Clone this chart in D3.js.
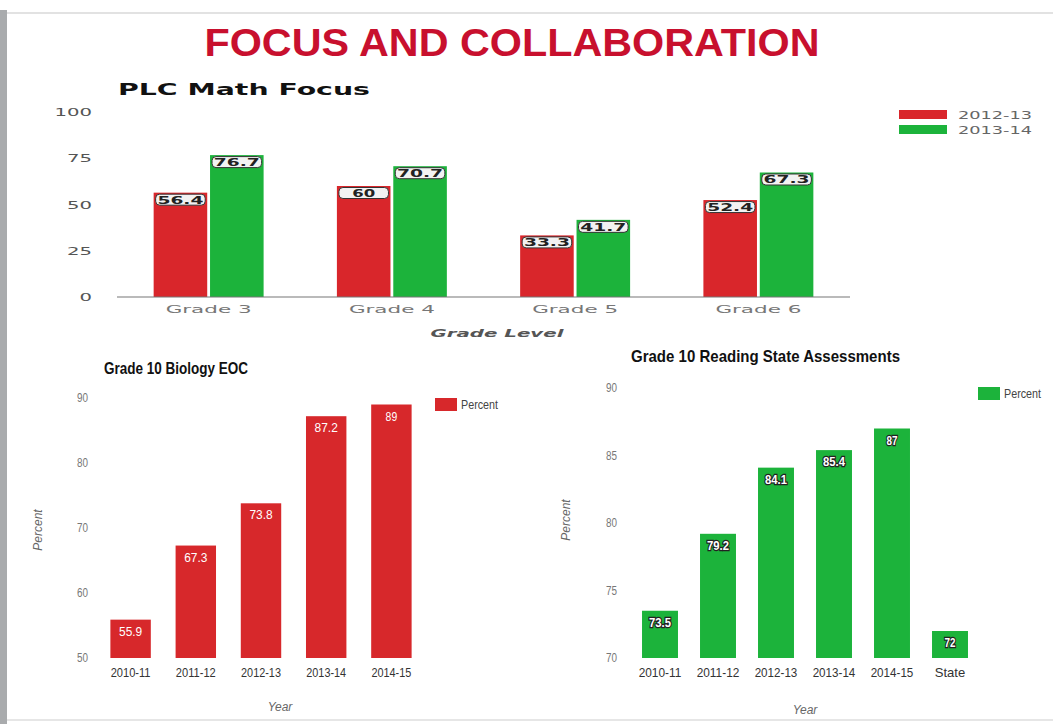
<!DOCTYPE html>
<html>
<head>
<meta charset="utf-8">
<script src="https://cdn.jsdelivr.net/npm/d3@7"></script>
<style>
  body { margin: 0; background: #fff; }
  svg { display: block; }
  .wide { font-family: "DejaVu Sans", Verdana, sans-serif; }
  .narrow { font-family: "Liberation Sans Narrow", "Liberation Sans", Arial, sans-serif; }
</style>
</head>
<body>
<div id="container"></div>
<script>
// data
var mathGrades = ["Grade 3", "Grade 4", "Grade 5", "Grade 6"];
var mathSeries = ["2012-13", "2013-14"];
var math1213 = [56.4, 60, 33.3, 52.4];
var math1314 = [76.7, 70.7, 41.7, 67.3];
var mathTicks = [0, 25, 50, 75, 100];

var bioYears = ["2010-11", "2011-12", "2012-13", "2013-14", "2014-15"];
var bioValues = [55.9, 67.3, 73.8, 87.2, 89];
var bioTicks = [50, 60, 70, 80, 90];

var readYears = ["2010-11", "2011-12", "2012-13", "2013-14", "2014-15", "State"];
var readValues = [73.5, 79.2, 84.1, 85.4, 87, 72];
var readTicks = [70, 75, 80, 85, 90];

var RED = "#d9262b";
var GREEN = "#1cb33b";

var svg = d3.select("#container").append("svg")
  .attr("width", 1053)
  .attr("height", 724);

// slide frame
svg.append("rect").attr("x", 0).attr("y", 0).attr("width", 1053).attr("height", 724).attr("fill", "#fff");
svg.append("rect").attr("x", 0).attr("y", 10).attr("width", 7).attr("height", 714).attr("fill", "#a9abad");
svg.append("line").attr("x1", 7).attr("x2", 1053).attr("y1", 13).attr("y2", 13)
  .attr("stroke", "#e2e2e2").attr("stroke-width", 2);
svg.append("line").attr("x1", 7).attr("x2", 1053).attr("y1", 720).attr("y2", 720)
  .attr("stroke", "#e6e6e6").attr("stroke-width", 2);

// main title
svg.append("text")
  .attr("class", "narrow")
  .attr("x", 512).attr("y", 56)
  .attr("text-anchor", "middle")
  .attr("font-size", 38).attr("font-weight", "bold")
  .attr("fill", "#c8102e")
  .attr("textLength", 615).attr("lengthAdjust", "spacingAndGlyphs")
  .text("FOCUS AND COLLABORATION");

/* ---------- PLC Math Focus ---------- */
var top_ = svg.append("g");

top_.append("text")
  .attr("class", "wide")
  .attr("x", 118).attr("y", 95)
  .attr("font-size", 15).attr("font-weight", "bold")
  .attr("fill", "#111")
  .attr("textLength", 252).attr("lengthAdjust", "spacingAndGlyphs")
  .text("PLC Math Focus");

var mx = d3.scaleBand().domain(mathGrades).range([117, 850]).paddingInner(0.4).paddingOuter(0.2);
var my = d3.scaleLinear().domain([0, 100]).range([297, 112]);
var msub = d3.scaleBand().domain(mathSeries).range([0, mx.bandwidth()]).paddingInner(0.05);

top_.selectAll(".ytick").data(mathTicks).enter().append("text")
  .attr("class", "wide")
  .attr("x", 92).attr("y", d => my(d) + 4)
  .attr("text-anchor", "end")
  .attr("font-size", 10)
  .attr("textLength", d => String(d).length * 12.5)
  .attr("lengthAdjust", "spacingAndGlyphs")
  .attr("fill", "#555")
  .text(d => d);

var mathRows = mathGrades.map((g, i) => ({ grade: g, vals: [math1213[i], math1314[i]] }));
var groups = top_.selectAll(".grp").data(mathRows).enter().append("g")
  .attr("transform", d => "translate(" + mx(d.grade) + ",0)");

groups.selectAll("rect").data(d => d.vals.map((v, j) => ({ key: mathSeries[j], v: v })))
  .enter().append("rect")
  .attr("x", d => msub(d.key))
  .attr("width", msub.bandwidth())
  .attr("y", d => my(d.v))
  .attr("height", d => my(0) - my(d.v))
  .attr("fill", d => d.key === mathSeries[0] ? RED : GREEN);

var mlab = groups.selectAll(".lab").data(d => d.vals.map((v, j) => ({ key: mathSeries[j], v: v })))
  .enter().append("g");
mlab.append("rect")
  .attr("x", d => msub(d.key) + 2)
  .attr("y", d => my(d.v) + 1.5)
  .attr("width", msub.bandwidth() - 4).attr("height", 11).attr("rx", 4)
  .attr("fill", "#f2f2f2").attr("stroke", "#333").attr("stroke-width", 1);
mlab.append("text")
  .attr("class", "wide")
  .attr("x", d => msub(d.key) + msub.bandwidth() / 2)
  .attr("y", d => my(d.v) + 11)
  .attr("text-anchor", "middle")
  .attr("font-size", 11).attr("font-weight", "bold")
  .attr("textLength", d => String(d.v).length * 11.5)
  .attr("lengthAdjust", "spacingAndGlyphs")
  .attr("fill", "#222")
  .text(d => d.v);

top_.append("line")
  .attr("x1", 117).attr("x2", 850).attr("y1", my(0)).attr("y2", my(0))
  .attr("stroke", "#777").attr("stroke-width", 1.2);

top_.selectAll(".xl").data(mathGrades).enter().append("text")
  .attr("class", "wide")
  .attr("x", d => mx(d) + mx.bandwidth() / 2)
  .attr("y", 313)
  .attr("text-anchor", "middle")
  .attr("font-size", 11)
  .attr("textLength", 86).attr("lengthAdjust", "spacingAndGlyphs")
  .attr("fill", "#777")
  .text(d => d);

top_.append("text")
  .attr("class", "wide")
  .attr("x", 497).attr("y", 337)
  .attr("text-anchor", "middle")
  .attr("font-size", 11).attr("font-weight", "bold").attr("font-style", "italic")
  .attr("textLength", 133).attr("lengthAdjust", "spacingAndGlyphs")
  .attr("fill", "#555")
  .text("Grade Level");

var mleg = top_.selectAll(".leg").data(mathSeries).enter().append("g")
  .attr("transform", (d, i) => "translate(899," + (110 + i * 15) + ")");
mleg.append("rect").attr("width", 48).attr("height", 9)
  .attr("fill", (d, i) => i === 0 ? RED : GREEN);
mleg.append("text")
  .attr("class", "wide")
  .attr("x", 59).attr("y", 9)
  .attr("font-size", 10)
  .attr("textLength", 74).attr("lengthAdjust", "spacingAndGlyphs")
  .attr("fill", "#666")
  .text(d => d);

/* ---------- small year charts ---------- */
function yearChart(opt) {
  var g = svg.append("g");
  var x = d3.scaleBand().domain(opt.cats).range(opt.xr).paddingInner(opt.pad).paddingOuter(opt.pad / 2);
  var y = d3.scaleLinear().domain(opt.dom).range(opt.yr);

  g.append("text")
    .attr("class", "narrow")
    .attr("x", opt.titleX).attr("y", opt.titleY)
    .attr("font-size", 17).attr("font-weight", "bold")
    .attr("textLength", opt.titleLen).attr("lengthAdjust", "spacingAndGlyphs")
    .attr("fill", "#111")
    .text(opt.title);

  g.selectAll(".yt").data(opt.ticks).enter().append("text")
    .attr("class", "narrow")
    .attr("x", opt.tickX).attr("y", d => y(d) + 4)
    .attr("text-anchor", "end")
    .attr("font-size", 12)
    .attr("textLength", 11).attr("lengthAdjust", "spacingAndGlyphs")
    .attr("fill", "#777")
    .text(d => d);

  g.selectAll(".bar").data(opt.vals).enter().append("rect")
    .attr("x", (d, i) => x(opt.cats[i]))
    .attr("width", x.bandwidth())
    .attr("y", d => y(d))
    .attr("height", d => y(opt.dom[0]) - y(d))
    .attr("fill", opt.color);

  g.selectAll(".vl").data(opt.vals).enter().append("text")
    .attr("class", "narrow")
    .attr("x", (d, i) => x(opt.cats[i]) + x.bandwidth() / 2)
    .attr("y", d => y(d) + 16)
    .attr("text-anchor", "middle")
    .attr("font-size", 13).attr("font-weight", opt.outline ? "bold" : "normal")
    .attr("textLength", d => String(d).length * (opt.outline ? 5.5 : 5.8))
    .attr("lengthAdjust", "spacingAndGlyphs")
    .attr("fill", "#fff")
    .attr("stroke", opt.outline ? "#222" : "none")
    .attr("stroke-width", opt.outline ? 2.5 : 0)
    .attr("paint-order", "stroke")
    .text(d => d);

  g.selectAll(".xt").data(opt.cats).enter().append("text")
    .attr("class", "narrow")
    .attr("x", d => x(d) + x.bandwidth() / 2)
    .attr("y", opt.yr[0] + 19)
    .attr("text-anchor", "middle")
    .attr("font-size", 13)
    .attr("textLength", d => d.length * opt.catW)
    .attr("lengthAdjust", "spacingAndGlyphs")
    .attr("fill", "#333")
    .text(d => d);

  g.append("text")
    .attr("class", "narrow")
    .attr("x", opt.yearX).attr("y", opt.yearY)
    .attr("text-anchor", "middle")
    .attr("font-size", 12).attr("font-style", "italic")
    .attr("fill", "#666")
    .text("Year");

  g.append("text")
    .attr("class", "narrow")
    .attr("transform", "translate(" + opt.pctX + "," + opt.pctY + ") rotate(-90)")
    .attr("text-anchor", "middle")
    .attr("font-size", 12).attr("font-style", "italic")
    .attr("fill", "#666")
    .text("Percent");

  g.append("rect")
    .attr("x", opt.legX).attr("y", opt.legY)
    .attr("width", 22).attr("height", 13)
    .attr("fill", opt.color);
  g.append("text")
    .attr("class", "narrow")
    .attr("x", opt.legX + 26).attr("y", opt.legY + 11)
    .attr("font-size", 13)
    .attr("textLength", 37).attr("lengthAdjust", "spacingAndGlyphs")
    .attr("fill", "#444")
    .text("Percent");
}

yearChart({
  title: "Grade 10 Biology EOC", titleX: 104, titleY: 374, titleLen: 144,
  cats: bioYears, vals: bioValues, ticks: bioTicks, dom: [50, 90],
  xr: [98, 424], yr: [658, 398], pad: 0.38, tickX: 88, catW: 5.7,
  color: "#d7282b", outline: false,
  yearX: 280, yearY: 711, pctX: 42, pctY: 530,
  legX: 435, legY: 398
});

yearChart({
  title: "Grade 10 Reading State Assessments", titleX: 631, titleY: 362, titleLen: 269,
  cats: readYears, vals: readValues, ticks: readTicks, dom: [70, 90],
  xr: [631, 979], yr: [658, 388], pad: 0.38, tickX: 617, catW: 6.1,
  color: GREEN, outline: true,
  yearX: 805, yearY: 714, pctX: 570, pctY: 520,
  legX: 978, legY: 387
});
</script>
</body>
</html>
